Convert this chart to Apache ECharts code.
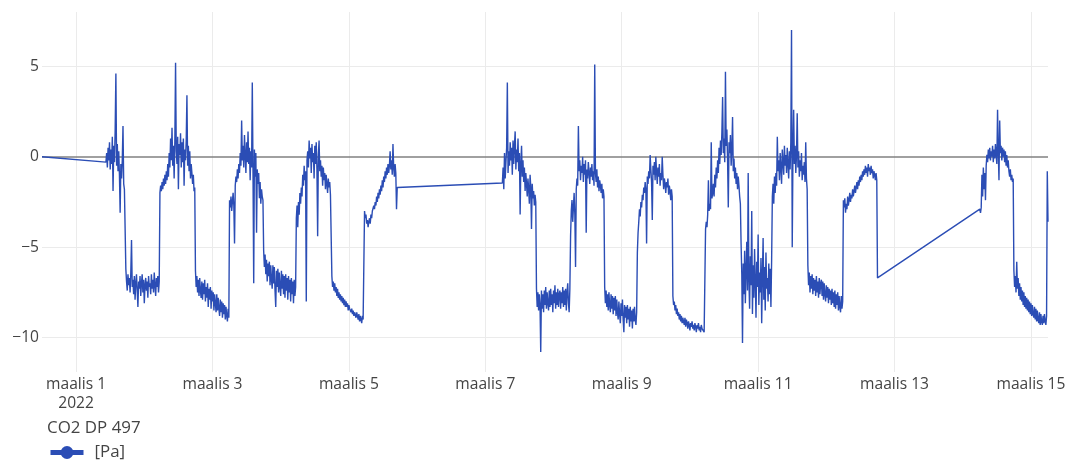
<!DOCTYPE html>
<html>
<head>
<meta charset="utf-8">
<script src="https://cdn.jsdelivr.net/npm/echarts@6/dist/echarts.min.js"></script>
<style>
html,body{margin:0;padding:0;background:#fff;}
#chart{width:1074px;height:464px;}
</style>
</head>
<body>
<div id="chart"></div>
<script>
// ---- data (15-minute samples; each segment starts at the given UTC time) ----
const stepMinutes = 15;
const segmentStarts = [
  '2022-02-28T12:00', '2022-03-01T10:30', '2022-03-01T17:30', '2022-03-02T05:30',
  '2022-03-02T18:00', '2022-03-03T06:00', '2022-03-03T18:00', '2022-03-04T05:30',
  '2022-03-04T18:00', '2022-03-05T05:30', '2022-03-07T06:00', '2022-03-07T18:00',
  '2022-03-08T06:00', '2022-03-08T18:00', '2022-03-09T05:30', '2022-03-09T18:00',
  '2022-03-10T05:30', '2022-03-10T18:00', '2022-03-11T05:00', '2022-03-11T17:30',
  '2022-03-12T06:00', '2022-03-14T06:00', '2022-03-14T18:00'
];
const seg00 = [0.0];
const seg01 = [
  -0.3, 0.2, -0.6, 0.5, -0.2, 0.8, -0.7, 0.4, -0.4, 1.1,
  -1.9, 0.6, -0.3, 1.5, 4.6, -0.5, 0.7, -0.8, 0.3, -1.0,
  -3.1, -0.4, -1.2, -0.2, 1.7, -1.5, -1.8];
const seg02 = [
  -6.2, -6.9, -7.4, -6.5, -7.1, -6.7, -7.5, -6.4, -4.6, -7.2,
  -6.8, -7.6, -6.6, -7.9, -7.0, -6.5, -7.4, -8.3, -6.9, -7.3,
  -6.6, -7.7, -7.0, -6.5, -7.5, -6.8, -8.1, -7.1, -6.7, -7.4,
  -6.9, -7.8, -6.6, -7.2, -7.0, -7.6, -6.5, -7.3, -6.8, -7.5,
  -6.4, -7.1, -7.7, -6.7, -7.2, -6.6, -7.5, -6.9];
const seg03 = [
  -2.0, -1.6, -1.9, -1.4, -1.8, -1.2, -1.6, -1.0, -1.5, -0.8,
  -1.3, -0.4, -1.1, 0.2, -0.6, 1.0, -0.2, 1.6, -0.5, 0.6,
  -1.2, 0.9, 5.2, 0.3, -0.4, 1.1, -1.8, 0.7, 0.1, 1.3,
  -0.6, 0.8, -0.3, 1.0, -1.6, 0.4, -0.2, 0.9, 3.4, -0.5,
  0.6, -0.8, 0.3, -1.2, -0.4, -0.9, -1.5, -1.0, -1.9, -1.7];
const seg04 = [
  -6.3, -7.2, -6.6, -7.5, -6.8, -7.7, -6.7, -7.4, -7.8, -6.9,
  -7.9, -7.0, -7.6, -6.8, -8.0, -7.2, -7.8, -7.0, -8.3, -7.3,
  -7.9, -7.2, -8.4, -7.4, -8.0, -7.5, -8.5, -7.6, -8.1, -8.6,
  -7.6, -8.5, -7.8, -8.4, -8.8, -7.9, -8.6, -8.0, -8.9, -8.1,
  -8.7, -8.2, -9.0, -8.3, -8.8, -9.1, -8.4, -8.9];
const seg05 = [
  -2.4, -2.8, -2.2, -3.0, -2.5, -2.0, -2.7, -4.8, -1.6, -1.1,
  -1.4, -0.7, -1.2, -0.4, -0.9, 0.2, -0.5, 2.0, -0.2, 0.6,
  -0.6, 1.2, 0.1, -0.9, 0.8, -0.3, 1.4, -0.4, 0.5, -1.3,
  0.3, -0.6, 4.1, -0.8, -7.0, 0.4, -1.1, 0.2, -4.2, -0.7,
  -1.5, -0.9, -2.3, -1.4, -2.6, -1.8, -2.2, -2.4];
const seg06 = [
  -5.2, -6.1, -5.4, -6.5, -5.7, -6.9, -5.9, -6.6, -5.8, -7.1,
  -6.0, -6.8, -7.3, -6.0, -7.0, -6.1, -7.4, -8.3, -6.3, -7.2,
  -6.2, -7.5, -6.4, -7.2, -7.7, -6.3, -7.3, -6.5, -7.6, -6.6,
  -7.8, -6.5, -7.4, -6.7, -7.9, -6.6, -7.5, -6.8, -8.0, -6.7,
  -7.6, -6.9, -8.1, -6.8, -7.7, -7.2];
const seg07 = [
  -3.4, -2.7, -3.9, -2.5, -3.2, -2.0, -2.6, -1.7, -2.2, -1.0,
  -1.6, -0.5, -1.3, -0.8, -8.0, -0.2, 0.3, -0.6, 0.9, -0.1,
  0.5, -0.9, 0.7, -0.3, 0.2, -1.2, 0.6, -0.4, 0.8, -0.7,
  -4.4, 0.1, 0.9, -0.8, -0.2, -1.1, -0.5, -1.6, -0.6, -1.3,
  -0.9, -1.8, -1.0, -1.5, -2.0, -1.2, -1.7, -1.4, -2.1, -2.2];
const seg08 = [
  -6.6, -7.2, -6.9, -7.4, -7.0, -7.5, -7.2, -7.7, -7.3, -7.8,
  -7.5, -7.9, -7.6, -8.0, -7.7, -8.1, -7.8, -8.2, -7.9, -8.3,
  -8.0, -8.3, -8.1, -8.5, -8.2, -8.4, -8.3, -8.6, -8.4, -8.7,
  -8.5, -8.8, -8.6, -8.7, -8.9, -8.6, -8.8, -9.0, -8.7, -9.1,
  -8.8, -8.9, -9.2, -8.8, -9.0, -8.9];
const seg09 = [
  -3.0, -3.4, -3.2, -3.7, -3.5, -3.9, -3.6, -3.4, -3.7, -3.2,
  -3.4, -3.0, -3.1, -2.7, -2.9, -2.5, -2.7, -2.2, -2.5, -2.0,
  -2.3, -1.8, -2.1, -1.6, -1.9, -1.3, -1.7, -1.1, -1.4, -0.8,
  -1.2, -0.6, -1.0, -0.4, -0.9, -0.5, 0.3, -0.7, -0.2, -1.0,
  0.7, -0.6, -1.1, -0.4, -0.9, -2.9, -1.7];
const seg10 = [
  -1.45, -0.6, -1.8, 0.2, -1.2, -0.3, 0.5, 4.1, -0.9, 0.3,
  -0.5, 0.8, -0.2, 0.5, -1.0, 0.9, -0.4, 0.6, 1.4, -0.7,
  0.4, -0.3, 1.0, -0.8, 0.2, -3.2, -0.4, 0.6, -1.1, -0.2,
  -1.4, -0.6, -1.9, -0.9, -1.5, -2.2, -1.2, -1.8, -2.6, -1.0,
  -1.7, -4.0, -1.5, -2.3, -1.9, -2.7, -2.1, -2.5];
const seg11 = [
  -7.3, -8.3, -7.5, -8.5, -7.6, -8.2, -10.8, -7.4, -8.4, -7.6,
  -8.6, -7.4, -8.2, -7.2, -8.4, -7.5, -8.1, -8.5, -7.4, -8.3,
  -7.3, -8.2, -7.6, -8.6, -7.4, -8.1, -7.1, -8.4, -7.5, -8.2,
  -7.3, -8.3, -7.6, -7.4, -8.4, -7.5, -8.1, -7.2, -8.3, -7.4,
  -8.2, -7.3, -8.5, -7.5, -7.0, -8.1, -8.6, -7.3];
const seg12 = [
  -4.4, -3.0, -2.4, -3.6, -2.8, -2.0, -3.2, -6.1, -1.8, -1.2,
  -1.6, 1.7, -0.8, -0.2, -1.3, -0.5, -0.9, 0.0, -1.4, -0.4,
  -1.0, -0.2, -4.2, -0.7, -1.2, -0.3, -0.9, -1.5, -0.6, -1.1,
  -0.4, -1.3, -0.8, -1.6, 5.1, -0.9, -1.4, -0.7, -1.7, -1.1,
  -1.9, -1.3, -1.6, -2.0, -1.5, -2.3, -1.8, -2.2];
const seg13 = [
  -7.2, -8.1, -7.4, -8.3, -7.6, -8.5, -7.5, -8.2, -8.6, -7.6,
  -8.4, -7.7, -8.7, -7.8, -8.5, -7.7, -8.8, -7.9, -8.6, -9.0,
  -8.0, -8.7, -9.2, -8.1, -8.8, -7.9, -9.0, -9.7, -8.2, -8.9,
  -8.3, -9.2, -8.2, -9.0, -8.4, -9.4, -8.3, -9.1, -8.5, -9.5,
  -8.4, -9.1, -8.3, -9.0, -9.3, -8.6];
const seg14 = [
  -5.3, -4.2, -3.6, -2.9, -3.3, -2.5, -2.8, -2.1, -2.4, -1.7,
  -2.0, -1.4, -1.8, -4.8, -1.1, -1.5, -0.8, -1.2, 0.1, -0.7,
  -1.4, -3.5, -0.5, -1.0, -0.3, -1.3, 0.0, -0.8, -1.5, -0.6,
  -1.1, -0.4, -1.6, -0.9, -1.3, 0.0, -1.0, -1.8, -1.2, -1.5,
  -2.0, -1.4, -1.7, -1.2, -2.1, -1.6, -1.9, -2.4, -1.8, -2.2];
const seg15 = [
  -7.7, -8.2, -8.0, -8.5, -8.2, -8.7, -8.4, -8.8, -8.6, -9.0,
  -8.7, -9.1, -8.8, -9.2, -8.9, -9.1, -9.3, -8.9, -9.4, -9.0,
  -9.2, -9.5, -9.1, -9.3, -9.6, -9.2, -9.4, -9.1, -9.5, -9.3,
  -9.6, -9.2, -9.4, -9.7, -9.3, -9.5, -9.2, -9.6, -9.4, -9.7,
  -9.3, -9.5, -9.6, -9.4, -9.7, -9.6];
const seg16 = [
  -4.0, -3.6, -3.9, -3.2, -1.3, -3.0, -2.6, -2.9, 0.8, -2.3,
  -2.0, -1.5, -2.2, -1.0, -1.7, -0.6, -1.2, -0.2, -0.9, 0.5,
  -0.4, 0.9, 0.1, 1.4, 3.3, 0.2, 1.0, -0.3, 4.7, 0.6,
  1.5, -0.2, -2.8, 0.8, 0.2, 1.2, -0.5, 0.4, 2.2, -0.8,
  -0.1, -1.2, -0.6, -1.5, -0.9, -1.8, -1.1, -1.6, -2.2, -2.6];
const seg17 = [
  -4.8, -6.5, -10.3, -5.9, -7.6, -5.2, -8.1, -6.3, -4.7, -7.4,
  -0.9, -6.8, -8.4, -5.5, -7.1, -3.0, -8.7, -6.0, -7.8, -5.1,
  -6.9, -8.9, -5.8, -7.2, -4.3, -8.2, -6.4, -7.5, -5.6, -9.2,
  -6.6, -4.5, -7.9, -6.1, -8.5, -5.3, -7.3, -6.7, -8.0, -5.9,
  -7.6, -6.2, -8.3, -5.7];
const seg18 = [
  -2.2, -1.5, -2.6, -1.1, -2.0, -0.9, -1.6, 1.1, -0.8, -0.2,
  -1.3, 0.2, -0.6, -1.5, 0.4, -0.3, -1.0, 0.6, -0.5, 0.1,
  -0.9, 0.5, -0.4, -1.2, 0.3, -0.7, 0.8, 7.0, -5.0, 0.2,
  2.6, -0.4, 0.6, -0.9, 0.1, 2.4, -0.6, 0.3, -1.1, -0.2,
  -0.8, 0.2, -1.3, -0.5, -1.0, -0.3, -1.4, 0.8, -1.2, -1.8];
const seg19 = [
  -6.0, -7.1, -6.4, -7.5, -6.6, -7.3, -6.5, -7.6, -6.7, -7.4,
  -6.8, -7.7, -6.6, -7.5, -6.9, -7.8, -6.7, -7.6, -7.0, -6.8,
  -7.7, -6.9, -7.9, -7.0, -7.6, -8.0, -7.1, -7.8, -7.2, -8.1,
  -7.3, -7.9, -7.4, -8.2, -7.3, -8.1, -7.5, -8.3, -7.4, -8.4,
  -7.6, -8.2, -7.5, -8.5, -7.7, -8.3, -8.6, -7.7, -8.4, -8.0];
const seg20 = [
  -2.4, -2.8, -2.3, -3.1, -2.6, -2.9, -2.2, -2.7, -2.4, -2.0,
  -2.5, -2.1, -2.3, -1.8, -2.2, -1.9, -1.6, -2.0, -1.7, -1.4,
  -1.8, -1.3, -1.6, -1.1, -1.4, -1.0, -1.3, -0.8, -1.1, -0.7,
  -1.0, -0.5, -0.9, -0.6, -1.1, -0.4, -0.8, -0.6, -1.0, -0.5,
  -0.9, -0.7, -1.2, -0.8, -1.0, -1.3, -0.9, -1.3, -6.7];
const seg21 = [
  -2.9, -3.1, -2.8, -1.0, -2.2, -0.6, -1.8, -0.9, -2.4, -0.5,
  0.1, -0.3, 0.4, -0.1, 0.5, -0.2, 0.3, 0.0, 0.6, -0.3,
  0.4, -0.1, 0.7, 0.1, -0.4, 2.6, 0.3, -1.3, 2.0, 0.2,
  0.6, -0.2, 0.5, 0.0, 0.4, -0.3, 0.3, -0.5, 0.1, -0.6,
  -0.2, -0.8, -1.1, -0.7, -1.3, -1.0, -1.4, -1.2];
const seg22 = [
  -6.3, -7.2, -6.6, -7.5, -5.8, -7.3, -6.7, -7.7, -7.0, -7.9,
  -7.2, -8.0, -7.4, -8.2, -7.5, -8.3, -7.7, -8.4, -7.8, -8.5,
  -7.9, -8.6, -8.0, -8.7, -8.1, -8.8, -8.2, -8.7, -8.9, -8.3,
  -9.0, -8.4, -9.1, -8.5, -9.0, -9.2, -8.6, -9.3, -8.7, -9.1,
  -9.3, -8.8, -9.2, -8.7, -9.1, -9.3, -8.8, -0.8, -3.6];

const xTickDates = ['2022-03-01T00:00', '2022-03-03T00:00', '2022-03-05T00:00', '2022-03-07T00:00',
  '2022-03-09T00:00', '2022-03-11T00:00', '2022-03-13T00:00', '2022-03-15T00:00'];
const yTicks = [-10, -5, 0, 5];
const xRange = ['2022-02-28T12:00', '2022-03-15T06:00'];
const yRange = [-11.9, 8.0];
const seriesName = '[Pa]';
const legendTitle = 'CO2 DP 497';
const monthName = 'maalis';

// ---- build ----
function parseUTC(s) {
  const [d, t] = s.split('T');
  const [Y, M, D] = d.split('-').map(Number);
  const [h, m] = t.split(':').map(Number);
  return Date.UTC(Y, M - 1, D, h, m);
}
const segments = [seg00, seg01, seg02, seg03, seg04, seg05, seg06, seg07, seg08, seg09, seg10,
  seg11, seg12, seg13, seg14, seg15, seg16, seg17, seg18, seg19, seg20, seg21, seg22];
const points = [];
segments.forEach((vals, k) => {
  const t0 = parseUTC(segmentStarts[k]);
  vals.forEach((v, i) => points.push([t0 + i * stepMinutes * 60000, v]));
});
const xTicks = xTickDates.map(parseUTC);
const xMin = parseUTC(xRange[0]);
const xMax = parseUTC(xRange[1]);

const FONT = '"Open Sans", "DejaVu Sans", sans-serif';
const TXT = '#444';
const LINE = '#2B4DB5';

const gridLines = [];
xTicks.forEach(t => gridLines.push({ xAxis: t, lineStyle: { color: '#ebebeb', width: 1, type: 'solid' } }));
yTicks.forEach(v => gridLines.push({ yAxis: v, lineStyle: v === 0
  ? { color: '#808080', width: 1.5, type: 'solid' }
  : { color: '#ebebeb', width: 1, type: 'solid' } }));

const chart = echarts.init(document.getElementById('chart'), null, { renderer: 'canvas' });
chart.setOption({
  animation: false,
  backgroundColor: '#fff',
  textStyle: { fontFamily: FONT },
  title: {
    text: legendTitle, left: 47, top: 418, padding: 0,
    textStyle: { fontFamily: FONT, fontSize: 16.9, fontWeight: 'normal', color: TXT, lineHeight: 20 }
  },
  legend: {
    data: [seriesName], left: 48, top: 444, padding: 0,
    itemWidth: 33, itemHeight: 16,
    lineStyle: { width: 5 },
    textStyle: { fontFamily: FONT, fontSize: 16.9, color: TXT, padding: [0, 0, 0, 6] }
  },
  grid: { left: 42, right: 26, top: 12, bottom: 92, containLabel: false },
  xAxis: {
    type: 'value', min: xMin, max: xMax,
    axisLine: { show: false }, axisTick: { show: false }, splitLine: { show: false },
    axisLabel: {
      customValues: xTicks, margin: 3, color: TXT, fontFamily: FONT, fontSize: 15.6, lineHeight: 19,
      formatter: v => {
        const d = new Date(v);
        let s = monthName + ' ' + d.getUTCDate();
        if (d.getUTCDate() === 1) s += '\n' + d.getUTCFullYear();
        return s;
      }
    }
  },
  yAxis: {
    type: 'value', min: yRange[0], max: yRange[1],
    axisLine: { show: false }, axisTick: { show: false }, splitLine: { show: false },
    axisLabel: {
      customValues: yTicks, margin: 3, color: TXT, fontFamily: FONT, fontSize: 15.6,
      formatter: v => (v < 0 ? '\u2212' + Math.abs(v) : String(v))
    }
  },
  series: [
    {
      name: 'grid', type: 'line', z: 1, silent: true,
      data: [[xMin, 0]], showSymbol: false, lineStyle: { opacity: 0 },
      markLine: { z: 1, silent: true, symbol: ['none', 'none'], label: { show: false }, animation: false, data: gridLines }
    },
    {
      name: seriesName, type: 'line', z: 3,
      data: points, symbol: 'circle', showSymbol: false,
      lineStyle: { color: LINE, width: 1.4 }, itemStyle: { color: LINE },
      emphasis: { disabled: true }
    }
  ]
});
</script>
</body>
</html>
